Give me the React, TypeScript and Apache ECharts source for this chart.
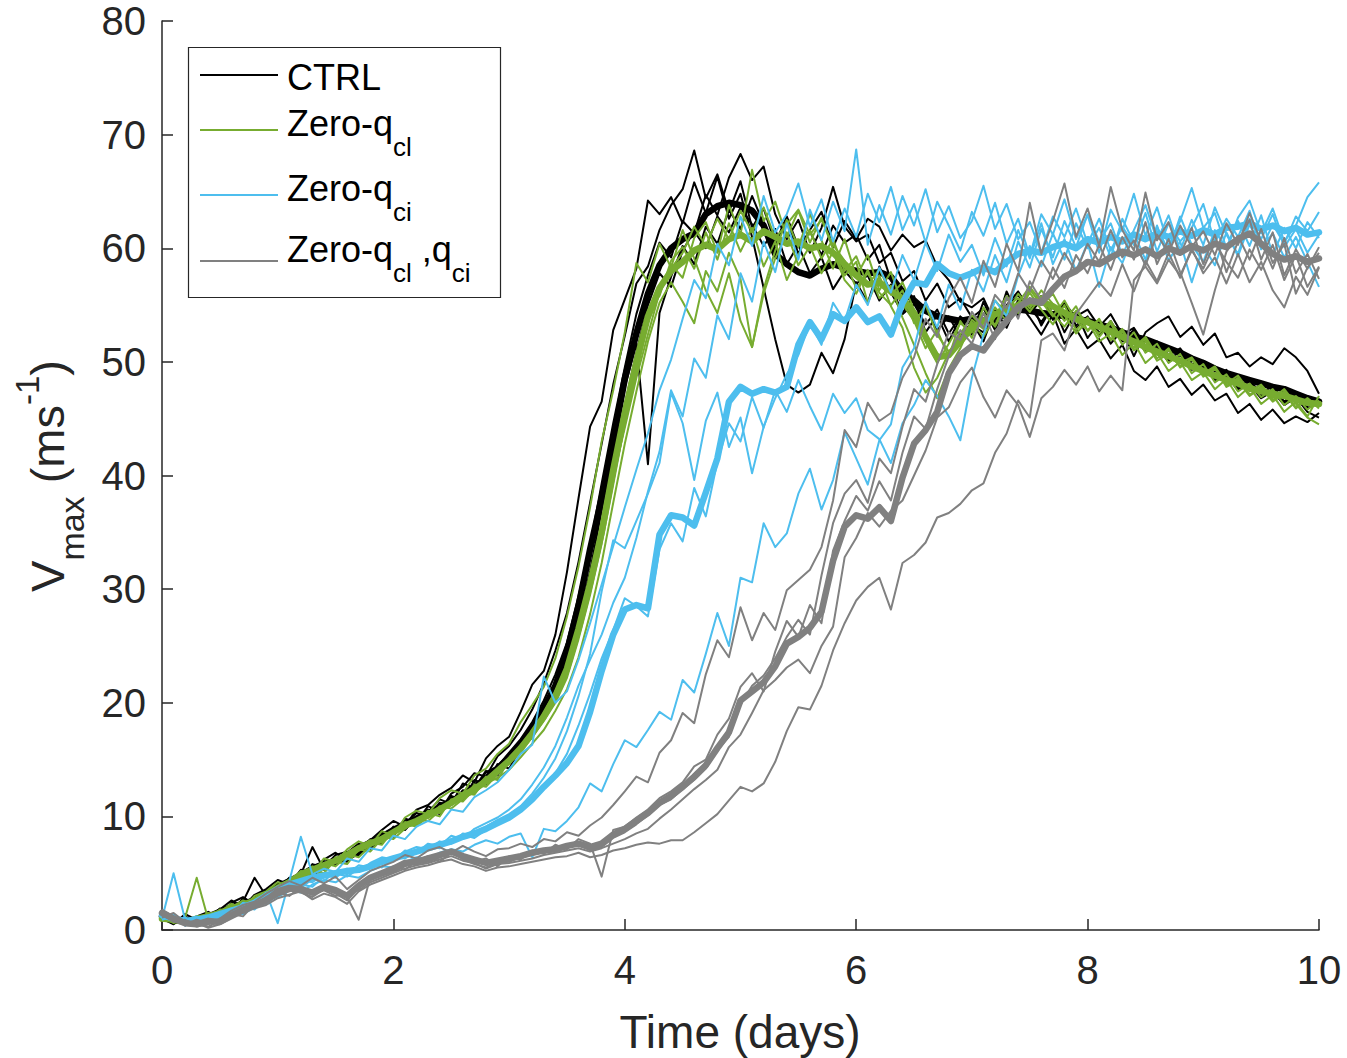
import React, { useEffect, useRef } from "react";
import * as echarts from "echarts";

// Time axis: ensemble output every 0.1 day from 0 to 10 days
const TIME_STEP_DAYS = 0.1;
const X_TICKS = [0, 2, 4, 6, 8, 10];
const Y_TICKS = [0, 10, 20, 30, 40, 50, 60, 70, 80];

// ---------------- CTRL (black) ----------------
const CTRL_MEAN = [
  1.2, 0.8, 0.9, 0.7, 1.0, 1.6, 2.0, 2.3, 2.6, 3.2,
  3.8, 4.3, 4.8, 5.4, 5.8, 6.1, 6.4, 6.9, 7.5, 8.2,
  8.8, 9.3, 9.8, 10.2, 10.8, 11.3, 11.9, 12.6, 13.3, 14.2,
  15.2, 16.3, 17.8, 19.5, 21.5, 24.5, 28.5, 33.5, 38.0, 43.0,
  48.5, 52.5, 56.0, 58.5, 60.0, 60.8, 61.3, 63.0, 63.7, 64.0,
  63.8, 63.3, 62.0, 59.5, 58.6, 57.9, 57.6, 58.2, 58.6, 58.3,
  58.0, 57.8, 57.9, 57.5, 56.2, 55.4, 54.5, 54.0, 53.8, 53.6,
  53.8, 53.6, 53.9, 54.2, 54.6, 54.5, 54.3, 54.2, 54.0, 53.8,
  53.6, 53.3, 53.0, 52.6, 52.2, 52.0, 51.6, 51.2, 50.8, 50.3,
  49.9, 49.4, 49.0, 48.7, 48.4, 48.1, 47.8, 47.6, 47.2, 46.8,
  46.5,
];
const CTRL_RUN_1 = [
  1.5, 0.6, 1.2, 0.5, 1.4, 1.8, 2.6, 2.0, 3.1, 3.6,
  4.4, 4.0, 5.3, 5.0, 6.2, 6.8, 6.1, 7.4, 7.9, 8.8,
  9.6, 9.1, 10.6, 11.0, 11.9, 12.5, 13.6, 13.0, 15.1, 16.2,
  17.0, 19.2, 21.6, 22.8, 26.0, 31.5, 38.0, 44.3, 46.5, 52.8,
  55.5, 58.2, 64.2, 63.0, 64.5, 62.2, 65.8, 63.1, 66.3, 62.6,
  64.8, 61.0, 56.5, 52.0, 48.0, 47.3, 48.0, 50.8, 49.0, 52.0,
  57.0, 55.2, 58.4, 56.1, 54.3, 55.8, 52.6, 54.1, 51.8, 53.9,
  52.4, 55.3, 53.0, 56.2, 54.1, 55.6, 53.2, 55.0, 52.6, 54.4,
  52.1, 53.5, 51.6, 52.8, 50.5, 52.6, 53.4, 54.0, 52.2, 53.1,
  51.5, 52.5, 50.4, 50.8, 49.6, 50.4, 49.8, 51.2, 50.4, 49.2,
  47.2,
];
const CTRL_RUN_2 = [
  0.9, 1.3, 0.6, 1.1, 0.8, 1.9, 1.5, 2.8, 2.4, 3.5,
  3.3, 4.6, 4.2, 5.8, 5.5, 6.6, 6.9, 6.5, 7.9, 8.4,
  8.2, 9.8, 9.5, 10.9, 10.4, 12.0, 12.6, 13.8, 13.5, 15.3,
  16.2, 17.6, 19.4, 21.7, 24.6, 27.9, 32.4, 37.6, 42.8, 48.0,
  52.3, 56.9, 58.4, 61.6, 63.8, 65.2, 68.6, 64.4, 66.5, 63.2,
  65.9, 61.8, 63.5, 60.4, 62.8, 60.1, 61.5, 59.4, 62.0, 60.5,
  61.2, 59.0, 60.3, 57.2, 55.0, 53.8, 55.2, 52.8, 54.0, 52.2,
  53.5, 51.8, 54.6, 53.0, 55.3, 53.9, 52.4, 54.2, 51.6, 52.9,
  51.2, 52.0, 50.3, 51.5, 49.2, 48.4, 49.6, 47.8, 48.5, 47.1,
  48.0, 46.6, 47.2, 45.5, 46.3, 44.9, 45.8, 44.6, 45.2, 44.7,
  45.5,
];
const CTRL_RUN_3 = [
  1.0, 0.5, 1.4, 0.9, 0.6, 1.3, 2.2, 1.8, 2.9, 2.7,
  3.9, 4.5, 4.1, 5.1, 6.0, 5.7, 6.8, 7.6, 7.1, 8.6,
  8.5, 9.4, 10.3, 9.9, 11.2, 11.0, 12.3, 12.1, 13.9, 14.4,
  15.6, 16.8, 18.3, 20.2, 22.5, 25.3, 29.4, 33.8, 39.3, 44.6,
  49.5, 54.2, 57.6, 60.5, 59.2, 62.4, 61.3, 64.7, 62.9, 66.2,
  68.3, 66.0, 67.2, 63.0, 60.8, 62.5, 59.6, 61.8, 65.4, 61.9,
  60.6, 61.2, 58.7, 59.6, 57.1, 58.0, 55.4, 56.9, 54.8, 55.6,
  53.9, 54.7, 52.8, 55.0, 56.2, 54.6, 55.8, 53.7, 55.1, 54.0,
  54.6, 53.1, 54.2, 52.4, 53.0, 51.4, 51.8, 50.6, 51.2, 49.8,
  50.1, 48.6, 49.3, 47.8, 48.4, 47.2, 47.9, 46.5, 47.3, 46.1,
  46.8,
];
const CTRL_RUN_4 = [
  1.3, 1.0, 0.4, 1.2, 1.6, 1.1, 2.4, 2.9, 2.2, 3.3,
  3.0, 4.1, 5.0, 4.7, 5.6, 5.9, 6.2, 7.0, 8.0, 7.6,
  9.1, 8.8, 9.9, 10.6, 10.2, 11.8, 11.4, 13.2, 12.8, 14.6,
  14.2, 16.0, 17.1, 19.0, 20.8, 23.6, 27.2, 31.6, 36.9, 42.2,
  47.8, 51.6, 41.0, 54.3, 57.5, 60.2, 58.6, 61.9, 60.4, 63.4,
  61.7, 64.6, 62.1, 60.3, 62.7, 59.5, 61.6, 63.2, 60.1, 62.4,
  60.8, 62.6, 61.9, 59.8, 61.2, 60.1, 60.7, 58.4, 57.2, 55.3,
  54.8, 55.6, 53.4, 54.8, 55.9, 54.3, 55.4, 54.1, 55.2, 53.2,
  54.0, 52.4, 53.6, 51.9, 52.8, 51.0, 51.7, 50.2, 50.9, 49.5,
  49.9, 48.5, 48.9, 47.6, 48.3, 47.0, 47.6, 46.4, 47.1, 45.9,
  46.4,
];
const CTRL_RUN_5 = [
  1.1, 0.7, 1.0, 0.6, 1.3, 1.7, 1.4, 2.5, 4.6, 3.0,
  4.1, 3.8, 4.9, 7.3, 5.3, 6.3, 6.0, 7.1, 7.3, 8.0,
  8.9, 9.6, 9.2, 10.4, 11.5, 11.1, 12.9, 12.5, 14.0, 13.6,
  15.0, 15.8, 17.4, 18.6, 20.1, 22.8, 26.0, 30.4, 35.5, 41.0,
  46.2, 50.8, 55.0, 57.8, 56.6, 59.8, 61.5, 60.0, 62.8, 61.4,
  63.6, 62.1, 60.2, 61.7, 58.6, 60.3, 57.8, 59.2, 56.4, 58.0,
  56.9, 57.6, 55.4, 56.8, 54.2, 55.1, 53.3, 54.6, 52.5, 54.0,
  53.2, 52.6, 54.4, 53.7, 55.4, 54.8, 53.5, 55.0, 54.2, 53.0,
  53.8, 52.6, 53.2, 51.8, 52.3, 50.9, 51.3, 50.0, 50.6, 49.3,
  49.6, 48.4, 48.8, 47.5, 48.0, 46.8, 47.4, 46.2, 46.9, 45.6,
  45.1,
];

// ---------------- Zero-q_cl (green) ----------------
const QCL_MEAN = [
  1.0, 0.9, 0.7, 1.0, 1.2, 1.5, 1.9, 2.2, 2.6, 3.1,
  3.7, 4.2, 4.9, 5.3, 5.7, 6.1, 6.6, 7.2, 7.6, 8.0,
  8.6, 9.2, 9.6, 10.1, 10.6, 11.2, 11.8, 12.4, 13.1, 14.0,
  14.9, 16.0, 17.3, 18.8, 20.6, 23.0, 26.5, 30.5, 35.0, 40.5,
  45.5, 50.0, 54.0, 56.5, 58.0, 58.8, 59.8, 60.3, 59.9, 60.8,
  61.2, 60.6, 61.5, 61.0, 60.4, 60.6, 60.0, 60.2, 59.6, 58.6,
  57.6, 56.8, 57.0, 56.2, 55.6, 54.3, 52.2, 50.4, 50.6, 51.8,
  53.0, 53.6, 54.2, 54.5, 55.0, 55.2, 55.3, 54.9, 54.3, 53.8,
  53.5, 53.1, 52.7, 52.2, 51.8, 51.3, 50.9, 50.5, 50.1, 49.6,
  49.2, 48.8, 48.4, 48.1, 47.7, 47.4, 47.2, 47.0, 46.7, 46.4,
  46.3,
];
const QCL_RUN_1 = [
  1.2, 0.6, 1.1, 4.6, 0.9, 1.6, 2.3, 1.9, 3.0, 3.4,
  4.2, 3.9, 5.2, 5.0, 6.3, 6.0, 7.1, 7.8, 7.4, 8.7,
  8.3, 9.9, 10.5, 10.2, 11.6, 12.3, 12.0, 13.6, 14.2, 15.5,
  16.4, 18.3, 19.8, 21.4, 23.9, 27.6, 32.0, 37.2, 43.0, 47.5,
  52.6, 58.7, 57.0, 60.4, 58.3, 61.6, 59.1, 56.3, 54.3, 57.8,
  53.6, 51.3, 56.4, 59.8, 62.5, 60.1, 63.0, 60.7, 58.2, 60.8,
  57.5, 59.4, 56.3, 57.9, 55.1, 53.6, 51.2, 52.8, 50.4, 53.6,
  52.1, 54.8, 53.2, 55.6, 54.3, 56.1, 54.6, 53.3, 55.0, 52.8,
  53.9, 52.2, 53.4, 51.5, 52.6, 50.8, 51.6, 49.9, 50.7, 49.0,
  49.8, 48.2, 48.9, 47.4, 48.1, 46.9, 47.6, 46.2, 47.0, 45.8,
  46.6,
];
const QCL_RUN_2 = [
  0.8, 1.2, 0.5, 0.9, 1.5, 1.2, 2.0, 2.6, 2.3, 3.0,
  3.5, 4.4, 4.7, 5.6, 5.3, 6.4, 6.2, 7.0, 7.7, 7.5,
  8.8, 9.0, 9.4, 10.5, 10.3, 11.4, 12.1, 11.9, 13.3, 13.8,
  14.7, 15.6, 17.0, 18.4, 20.0, 22.2, 25.6, 29.5, 34.0, 39.2,
  44.6, 49.0, 53.5, 56.0, 58.6, 57.4, 60.9, 62.3, 59.6, 63.8,
  61.2, 66.9, 62.4, 64.1, 61.0, 63.3, 60.5, 62.7, 59.9, 57.6,
  58.8, 55.2, 57.6, 54.9, 53.0, 49.5, 47.3, 48.6, 50.8, 52.4,
  54.1, 53.0, 55.4, 54.2, 56.0, 54.7, 56.3, 55.1, 53.6, 54.9,
  52.7, 53.8, 51.9, 52.9, 51.2, 52.0, 50.3, 51.2, 49.5, 50.3,
  48.7, 49.4, 47.9, 48.6, 47.1, 47.8, 46.6, 47.4, 46.0, 46.8,
  45.9,
];
const QCL_RUN_3 = [
  1.0, 0.8, 0.7, 1.2, 0.9, 1.8, 1.6, 2.3, 2.8, 2.7,
  3.9, 4.1, 4.6, 5.0, 5.9, 5.6, 6.5, 7.3, 7.9, 7.7,
  8.5, 9.3, 9.1, 10.0, 10.9, 10.7, 11.5, 12.8, 12.6, 13.7,
  14.6, 16.1, 16.9, 18.9, 20.2, 23.4, 26.1, 30.8, 34.6, 40.0,
  45.9, 49.4, 54.5, 55.8, 58.9, 60.1, 58.2, 61.4, 59.0, 62.2,
  59.7, 61.8, 58.4, 60.6, 57.2, 59.4, 61.6, 59.1, 60.8, 58.0,
  59.3, 56.7, 58.2, 55.9, 57.0, 54.6, 51.8, 49.9, 51.6, 53.4,
  52.6, 54.3, 53.1, 54.9, 55.6, 54.4, 55.8, 54.2, 53.1, 54.5,
  53.4, 52.5, 53.6, 52.0, 51.3, 52.2, 50.6, 51.0, 49.9, 50.4,
  49.0, 49.6, 48.1, 48.8, 47.4, 48.0, 46.8, 47.6, 46.3, 45.1,
  44.5,
];
const QCL_RUN_4 = [
  1.4, 1.0, 0.6, 0.8, 1.1, 1.4, 2.1, 1.7, 2.5, 3.2,
  3.6, 4.4, 4.0, 5.3, 5.0, 6.2, 6.7, 6.4, 7.4, 8.2,
  8.0, 8.9, 9.7, 9.6, 10.5, 11.0, 11.6, 12.1, 12.9, 13.4,
  14.1, 15.2, 16.4, 17.6, 19.3, 21.2, 24.0, 27.8, 32.3, 37.6,
  42.8, 47.4, 51.8, 55.2, 57.0, 55.3, 53.4, 58.0, 56.2, 59.6,
  57.3, 51.3, 56.0, 59.1, 61.4, 58.5, 60.2, 57.8, 59.7, 57.2,
  56.0, 58.1, 55.6, 56.7, 53.9, 51.5, 49.0, 46.8, 49.4, 51.2,
  53.5, 52.2, 54.0, 55.8, 54.5, 56.4, 55.0, 56.0, 54.1, 52.5,
  53.6, 51.8, 52.5, 50.6, 51.7, 49.9, 50.8, 49.2, 50.0, 48.4,
  49.1, 47.6, 48.5, 46.9, 47.8, 46.3, 47.1, 45.6, 46.5, 45.2,
  47.0,
];
const QCL_RUN_5 = [
  0.9, 1.1, 0.8, 0.6, 1.3, 1.0, 1.7, 2.4, 2.1, 2.9,
  3.4, 3.9, 4.6, 4.4, 5.5, 6.0, 5.8, 7.1, 6.9, 8.0,
  8.4, 9.5, 9.2, 10.3, 10.0, 11.5, 11.3, 12.4, 13.5, 13.2,
  15.0, 15.9, 17.5, 19.1, 21.0, 23.3, 26.8, 30.2, 34.8, 39.9,
  44.2, 48.6, 52.4, 56.1, 58.2, 59.6, 61.9, 60.2, 62.6, 60.8,
  63.3, 61.4, 63.6, 60.9, 62.1, 63.4, 61.2, 62.5, 60.3, 58.9,
  56.5, 57.8, 56.1, 55.0, 56.3, 53.4, 55.0, 52.4, 50.9, 51.6,
  53.7, 52.9, 54.8, 53.6, 55.2, 56.6, 55.3, 54.0, 55.4, 53.6,
  52.8, 53.7, 52.0, 52.7, 51.0, 51.8, 50.1, 50.7, 49.6, 50.2,
  48.9, 49.5, 47.8, 48.3, 47.0, 47.7, 46.5, 47.2, 45.9, 46.8,
  46.0,
];

// ---------------- Zero-q_ci (light blue) ----------------
const QCI_MEAN = [
  1.3, 1.0, 0.8, 0.9, 1.1, 1.4, 1.7, 2.0, 2.4, 3.0,
  3.6, 4.0, 4.3, 4.6, 4.8, 5.0, 5.2, 5.3, 5.6, 6.0,
  6.3, 6.6, 6.9, 7.2, 7.5, 7.8, 8.2, 8.5, 8.9, 9.4,
  9.9, 10.6, 11.5, 12.6, 13.6, 14.7, 16.2, 19.2, 22.8, 26.0,
  28.2, 28.6, 28.3, 34.8, 36.5, 36.3, 35.6, 38.5, 41.5, 46.5,
  47.8, 47.2, 47.6, 47.3, 47.8, 51.5, 53.5, 52.0, 54.2, 53.6,
  54.8, 53.5, 54.0, 52.4, 55.2, 57.0, 56.8, 58.6, 57.8, 57.4,
  57.8, 58.3, 57.9, 58.8, 59.5, 59.8, 59.6, 60.1, 60.4, 60.0,
  60.8, 60.5, 61.0, 60.6, 61.2, 60.8, 61.3, 61.0, 61.5, 61.1,
  61.6, 61.2, 61.8, 61.9, 62.2, 61.7, 62.0, 61.5, 61.8, 61.2,
  61.4,
];
const QCI_RUN_1 = [
  1.0, 5.0, 0.9, 1.2, 0.7, 1.6, 1.3, 2.4, 2.1, 3.3,
  0.6, 4.3, 8.2, 4.9, 5.4, 5.1, 6.3, 6.0, 7.2, 7.0,
  8.3, 8.0, 9.1, 9.6, 9.3, 10.6, 10.4, 11.7, 12.3, 13.0,
  14.1, 15.5, 16.3, 22.3, 20.0, 21.0, 23.8, 27.0, 30.4, 33.8,
  37.2, 40.5, 43.7, 47.5, 50.2, 53.8, 57.2, 55.6, 60.4, 58.5,
  62.8, 60.2, 64.6, 61.4, 63.0, 65.7, 61.9, 64.3, 60.6, 63.5,
  61.0, 64.8, 62.3, 65.4, 61.6, 63.9, 60.5, 64.1, 62.0, 59.8,
  63.2, 61.1, 64.0, 60.4, 62.6, 59.3, 63.0, 61.2, 64.3, 60.8,
  62.9, 59.6, 63.4, 61.5, 64.8, 61.1, 63.6, 60.2, 62.4, 65.3,
  61.8, 63.1, 60.0, 62.7, 64.2, 61.3, 63.5, 60.6, 62.0, 64.5,
  65.8,
];
const QCI_RUN_2 = [
  1.6, 0.9, 0.6, 1.0, 0.8, 1.3, 1.9, 1.5, 2.6, 3.0,
  3.8, 4.1, 3.7, 4.5, 4.3, 5.2, 4.9, 5.7, 5.5, 6.3,
  6.1, 7.0, 6.8, 7.6, 7.4, 8.3, 8.0, 8.9, 9.4, 9.9,
  10.6, 11.5, 12.8, 14.3, 16.2, 18.7, 21.5, 23.8, 26.0, 28.8,
  31.0, 34.5, 38.6, 42.1, 47.5, 45.2, 50.3, 48.6, 54.1, 52.0,
  57.8, 55.3, 60.6, 57.9, 62.2, 59.0, 63.4, 60.7, 64.1, 61.5,
  68.7, 60.3, 63.8, 61.2, 64.6, 62.0, 65.2, 61.4, 63.7, 60.9,
  62.4, 65.5, 61.7, 63.9, 60.8, 62.3, 59.6, 62.8, 61.0, 63.5,
  60.4, 62.6, 59.8, 61.9, 60.3, 63.1, 59.7, 62.2, 60.6, 61.8,
  63.9, 60.5, 62.6, 61.0, 63.3, 59.9, 62.1, 60.4, 62.8, 61.5,
  63.2,
];
const QCI_RUN_3 = [
  1.2, 1.4, 0.7, 0.5, 1.2, 1.0, 1.6, 2.1, 1.8, 2.7,
  3.2, 3.6, 4.4, 4.2, 4.9, 4.6, 5.4, 5.1, 5.9, 6.4,
  6.2, 6.9, 7.3, 7.1, 7.8, 7.6, 8.5, 8.3, 9.1, 9.7,
  10.2, 10.9, 12.0, 13.4, 15.1, 17.5, 20.6, 24.3, 29.8, 34.3,
  33.6, 36.0, 38.4, 41.1, 47.3, 44.6, 39.6, 44.8, 47.3, 42.5,
  45.1, 40.2, 44.3, 46.8, 48.9, 50.6, 53.4, 51.5, 55.2, 53.6,
  56.8, 55.0, 58.3, 56.1, 59.4, 57.2, 60.5, 58.0, 61.2, 58.8,
  60.3, 57.6, 60.9, 58.4, 61.6, 59.1, 62.2, 58.6, 60.8, 58.0,
  60.5, 56.6, 60.1, 58.7, 61.3, 59.0, 62.0, 58.9, 60.6, 57.0,
  60.2, 58.5, 61.4, 59.3, 62.1, 60.0, 61.3, 59.2, 61.0, 58.8,
  56.6,
];
const QCI_RUN_4 = [
  0.9, 1.2, 0.4, 0.8, 1.1, 0.9, 1.5, 1.4, 2.0, 2.6,
  2.9, 3.5, 3.3, 4.0, 4.4, 4.2, 4.8, 4.6, 5.2, 5.6,
  5.5, 6.0, 6.4, 6.2, 6.8, 7.1, 6.9, 7.5, 7.9, 7.6,
  8.2, 8.5, 6.4, 8.9, 8.7, 9.6, 10.8, 12.9, 12.2, 14.6,
  16.7, 16.1, 17.6, 19.2, 18.5, 22.0, 20.9, 24.3, 27.9, 25.0,
  31.0, 30.6, 35.8, 33.7, 34.9, 38.4, 40.6, 37.0, 39.6, 43.8,
  41.5, 39.2, 43.1, 44.5, 49.5, 51.2, 55.3, 53.0, 56.8, 54.6,
  58.1, 56.2, 59.4, 57.0, 60.6, 58.3, 61.7, 59.2, 62.4, 60.1,
  63.0, 60.6, 62.2, 59.4, 61.6, 63.8, 60.7, 62.9, 59.8, 62.5,
  60.3, 63.6, 61.2, 59.5, 62.6, 60.8, 63.0, 60.1, 61.7, 59.6,
  61.2,
];
const QCI_RUN_5 = [
  1.5, 0.8, 1.1, 0.6, 0.9, 1.5, 1.2, 1.9, 2.5, 2.3,
  3.1, 3.7, 4.0, 3.8, 4.7, 5.0, 4.7, 5.4, 5.8, 5.5,
  6.4, 6.3, 6.9, 7.4, 7.2, 7.9, 8.4, 8.1, 8.8, 9.3,
  9.8, 10.5, 11.3, 12.4, 13.8, 15.5, 18.0, 20.8, 23.9, 26.4,
  29.2, 28.5, 27.6, 33.5, 35.8, 34.2, 38.9, 36.4, 41.2, 44.6,
  43.0, 46.9, 44.2, 47.5, 45.6, 48.4, 46.1, 44.0, 47.2, 45.5,
  46.8, 44.0, 43.2, 41.1, 44.6, 46.2, 48.4, 47.0, 45.2, 43.1,
  48.6, 52.4, 55.4, 54.0, 57.6, 60.2, 58.4, 61.3, 59.0, 62.2,
  60.0, 61.8, 59.2, 62.6, 60.5, 58.6, 61.9, 59.7, 62.8, 60.3,
  58.8, 61.6, 59.9, 62.4, 60.2, 62.9, 59.4, 61.8, 60.0, 62.3,
  60.9,
];

// ---------------- Zero-q_cl,q_ci (grey) ----------------
const BOTH_MEAN = [
  1.5, 1.0, 0.6, 0.5, 0.8, 0.7, 1.3, 1.8, 2.2, 2.6,
  3.4, 3.7, 3.6, 3.3, 3.8, 3.5, 3.0, 3.9, 4.6, 5.0,
  5.4, 5.9, 6.0, 6.3, 6.6, 6.9, 6.5, 6.2, 5.9, 6.1,
  6.3, 6.5, 6.8, 7.0, 7.1, 7.4, 7.6, 7.3, 7.6, 8.4,
  8.9, 9.6, 10.3, 11.2, 11.8, 12.6, 13.5, 14.5, 16.0, 17.4,
  20.2, 21.0, 21.8, 23.2, 25.2, 25.8, 26.6, 28.0, 32.5, 35.5,
  36.5, 36.2, 37.2, 36.0, 39.8, 42.8, 44.0, 45.6, 49.0, 50.6,
  51.4, 51.0, 52.4, 53.6, 54.8, 55.4, 55.2, 56.4, 57.5, 58.0,
  58.8, 58.6, 59.2, 59.7, 59.4, 59.9, 59.3, 60.0, 59.6, 60.2,
  59.8, 60.4, 60.1, 60.8, 61.3, 60.4, 59.5, 59.0, 59.3, 58.8,
  59.1,
];
const BOTH_RUN_1 = [
  1.8, 1.2, 0.5, 0.9, 0.6, 1.0, 1.7, 2.2, 2.5, 3.2,
  3.8, 4.3, 3.9, 4.6, 4.1, 4.7, 3.6, 4.4, 5.2, 5.6,
  6.0, 6.6, 6.3, 7.0, 7.3, 6.8, 7.4, 6.9, 6.5, 7.1,
  7.2, 7.6, 7.3, 8.0, 7.8, 8.6, 8.3, 9.2, 9.9, 11.0,
  12.2, 13.5, 13.0, 15.6, 16.7, 19.1, 18.2, 22.5, 25.5, 24.0,
  28.4, 25.5, 27.9, 26.4, 29.9, 30.8, 31.7, 33.7, 37.8, 44.0,
  42.5, 46.4, 44.8, 45.5, 48.6, 50.4, 53.8, 52.2, 55.6, 57.4,
  55.2, 58.9, 56.6, 60.4, 58.0, 64.0, 59.5, 62.4, 65.7, 61.0,
  63.5, 60.2, 65.4, 61.6, 59.8, 64.9, 60.7, 62.3, 59.4, 61.8,
  58.6, 61.2, 57.9, 60.6, 62.5, 59.0, 61.4, 57.6, 59.9, 58.2,
  60.1,
];
const BOTH_RUN_2 = [
  1.3, 0.8, 0.9, 0.4, 1.0, 0.6, 1.1, 1.6, 2.0, 2.4,
  3.1, 3.5, 3.3, 2.9, 3.6, 3.2, 2.6, 3.7, 4.4, 4.8,
  5.1, 5.6, 5.9, 6.0, 6.4, 7.0, 6.2, 5.8, 5.5, 5.9,
  6.0, 6.4, 6.6, 6.9, 7.0, 7.3, 7.5, 7.0, 7.3, 8.1,
  8.6, 9.3, 10.1, 11.0, 11.5, 12.4, 13.2, 14.2, 15.8, 17.0,
  19.8, 21.5, 22.4, 23.9, 25.8, 27.3, 26.0, 31.2, 35.8, 38.4,
  39.6, 37.6, 41.5, 40.2, 44.3, 47.6, 46.5, 49.8, 52.6, 51.9,
  54.4, 53.0, 55.9, 54.7, 57.8, 56.2, 58.9, 57.3, 59.6, 57.9,
  60.4, 58.8, 61.6, 59.2, 60.7, 58.5, 61.2, 59.6, 62.0, 60.1,
  61.5, 59.4, 62.2, 60.3, 63.1, 60.6, 58.2, 60.9, 57.8, 59.5,
  57.3,
];
const BOTH_RUN_3 = [
  1.1, 1.5, 0.7, 0.3, 0.5, 0.9, 1.4, 1.2, 2.3, 2.9,
  3.3, 3.0, 3.8, 3.4, 4.0, 3.3, 2.9, 0.9, 4.6, 5.0,
  5.6, 5.3, 6.1, 6.5, 6.0, 6.8, 6.6, 6.0, 6.3, 5.6,
  6.5, 6.2, 7.0, 6.7, 7.5, 7.1, 8.0, 7.6, 4.7, 8.8,
  9.1, 9.9, 10.6, 11.6, 12.2, 13.0, 14.4, 15.0, 17.2, 18.6,
  21.4, 22.6, 21.0, 24.5, 27.2, 25.8, 28.6, 27.0, 33.4, 36.0,
  38.2, 36.9, 39.5, 37.8, 42.0, 45.2, 44.1, 47.6, 50.5, 52.8,
  51.6, 54.3, 52.0, 55.7, 53.8, 57.1, 55.4, 58.3, 56.5, 59.4,
  57.8, 60.3, 58.1, 61.0, 59.0, 62.3, 58.6, 60.8, 57.9, 55.2,
  52.4, 56.3, 59.7, 61.1, 59.0, 61.7, 58.7, 60.4, 56.0, 58.3,
  59.6,
];
const BOTH_RUN_4 = [
  1.6, 0.9, 0.6, 0.5, 0.3, 0.8, 1.2, 1.7, 2.1, 2.4,
  3.0, 3.4, 3.6, 3.1, 3.5, 3.0, 3.2, 3.5, 4.2, 4.6,
  5.0, 5.4, 5.7, 5.9, 6.2, 6.5, 6.1, 5.9, 5.4, 5.8,
  5.9, 6.1, 6.3, 6.6, 6.8, 7.0, 7.2, 6.9, 7.2, 7.6,
  8.0, 8.5, 8.9, 9.8, 10.6, 11.5, 12.4, 13.2, 14.1, 16.1,
  17.2, 19.1, 21.1, 22.0, 23.1, 23.8, 22.6, 25.0, 26.7, 32.8,
  34.5, 36.7, 35.5, 36.9, 37.8, 40.0, 42.2, 45.1, 46.0, 48.2,
  49.5, 46.9, 45.1, 47.5, 46.2, 43.4, 46.8, 47.8, 49.3, 48.0,
  49.6, 47.4, 48.8, 47.5, 57.2, 58.4, 56.9, 59.0, 57.6, 59.8,
  58.2, 60.5, 58.8, 57.4, 59.9, 58.1, 60.3, 57.2, 59.4, 56.6,
  58.4,
];
const BOTH_RUN_5 = [
  1.4, 0.7, 0.8, 0.6, 0.2, 0.5, 1.0, 1.5, 1.9, 2.2,
  2.8, 3.1, 3.4, 2.7, 3.2, 2.9, 2.3, 3.4, 4.0, 4.4,
  4.8, 5.2, 5.5, 5.7, 6.0, 6.2, 5.8, 5.6, 5.2, 5.5,
  5.6, 5.8, 6.0, 6.2, 6.4, 6.5, 6.8, 6.4, 6.6, 7.0,
  7.2, 7.5, 7.7, 7.6, 7.9, 7.9, 8.6, 9.4, 10.2, 11.4,
  12.6, 12.2, 12.9, 14.8, 17.5, 19.6, 19.4, 21.5, 24.6, 27.0,
  29.0, 30.2, 31.0, 28.2, 32.3, 33.0, 34.1, 36.3, 36.7, 37.5,
  38.7, 39.3, 42.0, 43.7, 46.6, 45.1, 51.9, 52.5, 51.0, 54.2,
  55.6, 57.0, 55.8, 58.6, 56.2, 58.9, 57.1, 59.6, 57.4, 60.0,
  57.8, 59.2, 56.9, 59.5, 57.0, 58.8, 56.3, 54.8, 57.5, 55.9,
  58.3,
];

const CTRL_RUNS = [CTRL_RUN_1, CTRL_RUN_2, CTRL_RUN_3, CTRL_RUN_4, CTRL_RUN_5];
const QCL_RUNS = [QCL_RUN_1, QCL_RUN_2, QCL_RUN_3, QCL_RUN_4, QCL_RUN_5];
const QCI_RUNS = [QCI_RUN_1, QCI_RUN_2, QCI_RUN_3, QCI_RUN_4, QCI_RUN_5];
const BOTH_RUNS = [BOTH_RUN_1, BOTH_RUN_2, BOTH_RUN_3, BOTH_RUN_4, BOTH_RUN_5];

const COLOR_CTRL = "#000000";
const COLOR_QCL = "#77AC30";
const COLOR_QCI = "#4DBEEE";
const COLOR_BOTH = "#808080";
const AXIS_COLOR = "#262626";
const FONT = "'Liberation Sans', Arial, Helvetica, sans-serif";

const GROUPS = [
  { key: "CTRL", color: COLOR_CTRL, runs: CTRL_RUNS, mean: CTRL_MEAN },
  { key: "Zero-qcl", color: COLOR_QCL, runs: QCL_RUNS, mean: QCL_MEAN },
  { key: "Zero-qci", color: COLOR_QCI, runs: QCI_RUNS, mean: QCI_MEAN },
  { key: "Zero-qcl,qci", color: COLOR_BOTH, runs: BOTH_RUNS, mean: BOTH_MEAN },
];

function toPoints(values: number[]) {
  return values.map((v, i) => [Math.round(i * TIME_STEP_DAYS * 100) / 100, v]);
}

function buildSeries() {
  const series: any[] = [];
  GROUPS.forEach((g) => {
    g.runs.forEach((run, k) => {
      series.push({
        type: "line",
        name: `${g.key} member ${k + 1}`,
        data: toPoints(run),
        symbol: "none",
        showSymbol: false,
        silent: true,
        lineStyle: { color: g.color, width: 2, join: "round" },
        itemStyle: { color: g.color },
        emphasis: { disabled: true },
      });
    });
    series.push({
      type: "line",
      name: `${g.key} mean`,
      data: toPoints(g.mean),
      symbol: "none",
      showSymbol: false,
      silent: true,
      lineStyle: { color: g.color, width: 6.5, join: "round", cap: "round" },
      itemStyle: { color: g.color },
      emphasis: { disabled: true },
    });
  });
  return series;
}

function legendElements() {
  const els: any[] = [];
  els.push({
    type: "rect",
    z: 100,
    shape: { x: 188.5, y: 47.5, width: 312, height: 250 },
    style: { fill: "#ffffff", stroke: AXIS_COLOR, lineWidth: 1.2 },
  });
  const rows = [
    { lineY: 75, textY: 77, color: COLOR_CTRL, text: "{a|CTRL}" },
    { lineY: 130, textY: 123, color: COLOR_QCL, text: "{a|Zero-q}{s|cl}" },
    { lineY: 195, textY: 188, color: COLOR_QCI, text: "{a|Zero-q}{s|ci}" },
    { lineY: 261, textY: 249, color: COLOR_BOTH, text: "{a|Zero-q}{s|cl}{a| ,q}{s|ci}" },
  ];
  const rich = {
    a: { fontSize: 36, fontFamily: FONT, fill: "#000000", height: 74, lineHeight: 74, verticalAlign: "middle" },
    s: { fontSize: 26, fontFamily: FONT, fill: "#000000", height: 26, lineHeight: 26, verticalAlign: "bottom" },
  };
  rows.forEach((r) => {
    els.push({
      type: "line",
      z: 101,
      shape: { x1: 200, y1: r.lineY, x2: 278, y2: r.lineY },
      style: { stroke: r.color, lineWidth: 2 },
    });
    els.push({
      type: "text",
      z: 101,
      x: 287,
      y: r.textY,
      style: {
        text: r.text,
        rich,
        fontSize: 36,
        fontFamily: FONT,
        fill: "#000000",
        align: "left",
        verticalAlign: "middle",
        textAlign: "left",
        textVerticalAlign: "middle",
      },
    });
  });
  return els;
}

function titleElements() {
  return [
    {
      type: "text",
      z: 101,
      x: 740,
      y: 1032,
      style: {
        text: "Time (days)",
        fontSize: 46,
        fontFamily: FONT,
        fill: AXIS_COLOR,
        align: "center",
        verticalAlign: "middle",
        textAlign: "center",
        textVerticalAlign: "middle",
      },
    },
    {
      type: "text",
      z: 101,
      x: 47,
      y: 476,
      rotation: Math.PI / 2,
      style: {
        text: "{m|V}{b|max}{m| (ms}{p|-1}{m|)}",
        rich: {
          m: { fontSize: 47, fontFamily: FONT, fill: AXIS_COLOR, height: 84, lineHeight: 84, verticalAlign: "middle" },
          b: { fontSize: 34, fontFamily: FONT, fill: AXIS_COLOR, height: 34, lineHeight: 34, verticalAlign: "bottom" },
          p: { fontSize: 33, fontFamily: FONT, fill: AXIS_COLOR, height: 44, lineHeight: 44, verticalAlign: "top" },
        },
        fontSize: 47,
        fontFamily: FONT,
        fill: AXIS_COLOR,
        align: "center",
        verticalAlign: "middle",
        textAlign: "center",
        textVerticalAlign: "middle",
      },
    },
  ];
}

export default function App() {
  const ref = useRef<HTMLDivElement | null>(null);
  useEffect(() => {
    if (!ref.current) return;
    const chart = echarts.init(ref.current, undefined, { renderer: "svg" });
    chart.setOption({
      animation: false,
      backgroundColor: "#ffffff",
      grid: { left: 162, right: 28, top: 21, bottom: 128, containLabel: false, outerBoundsMode: "none" },
      xAxis: {
        type: "value",
        min: X_TICKS[0],
        max: X_TICKS[X_TICKS.length - 1],
        interval: 2,
        axisLine: { show: true, onZero: false, lineStyle: { color: AXIS_COLOR, width: 1.5 } },
        axisTick: { show: true, inside: true, length: 11, lineStyle: { color: AXIS_COLOR, width: 1.5 } },
        axisLabel: { fontSize: 40, fontFamily: FONT, color: AXIS_COLOR, margin: 20 },
        splitLine: { show: false },
      },
      yAxis: {
        type: "value",
        min: Y_TICKS[0],
        max: Y_TICKS[Y_TICKS.length - 1],
        interval: 10,
        axisLine: { show: true, onZero: false, lineStyle: { color: AXIS_COLOR, width: 1.5 } },
        axisTick: { show: true, inside: true, length: 11, lineStyle: { color: AXIS_COLOR, width: 1.5 } },
        axisLabel: { fontSize: 40, fontFamily: FONT, color: AXIS_COLOR, margin: 16 },
        splitLine: { show: false },
      },
      series: buildSeries(),
      graphic: { elements: [...legendElements(), ...titleElements()] },
    });
    return () => chart.dispose();
  }, []);
  return (
    <div
      ref={ref}
      style={{ position: "fixed", left: 0, top: 0, width: 1347, height: 1058, background: "#ffffff" }}
    />
  );
}
